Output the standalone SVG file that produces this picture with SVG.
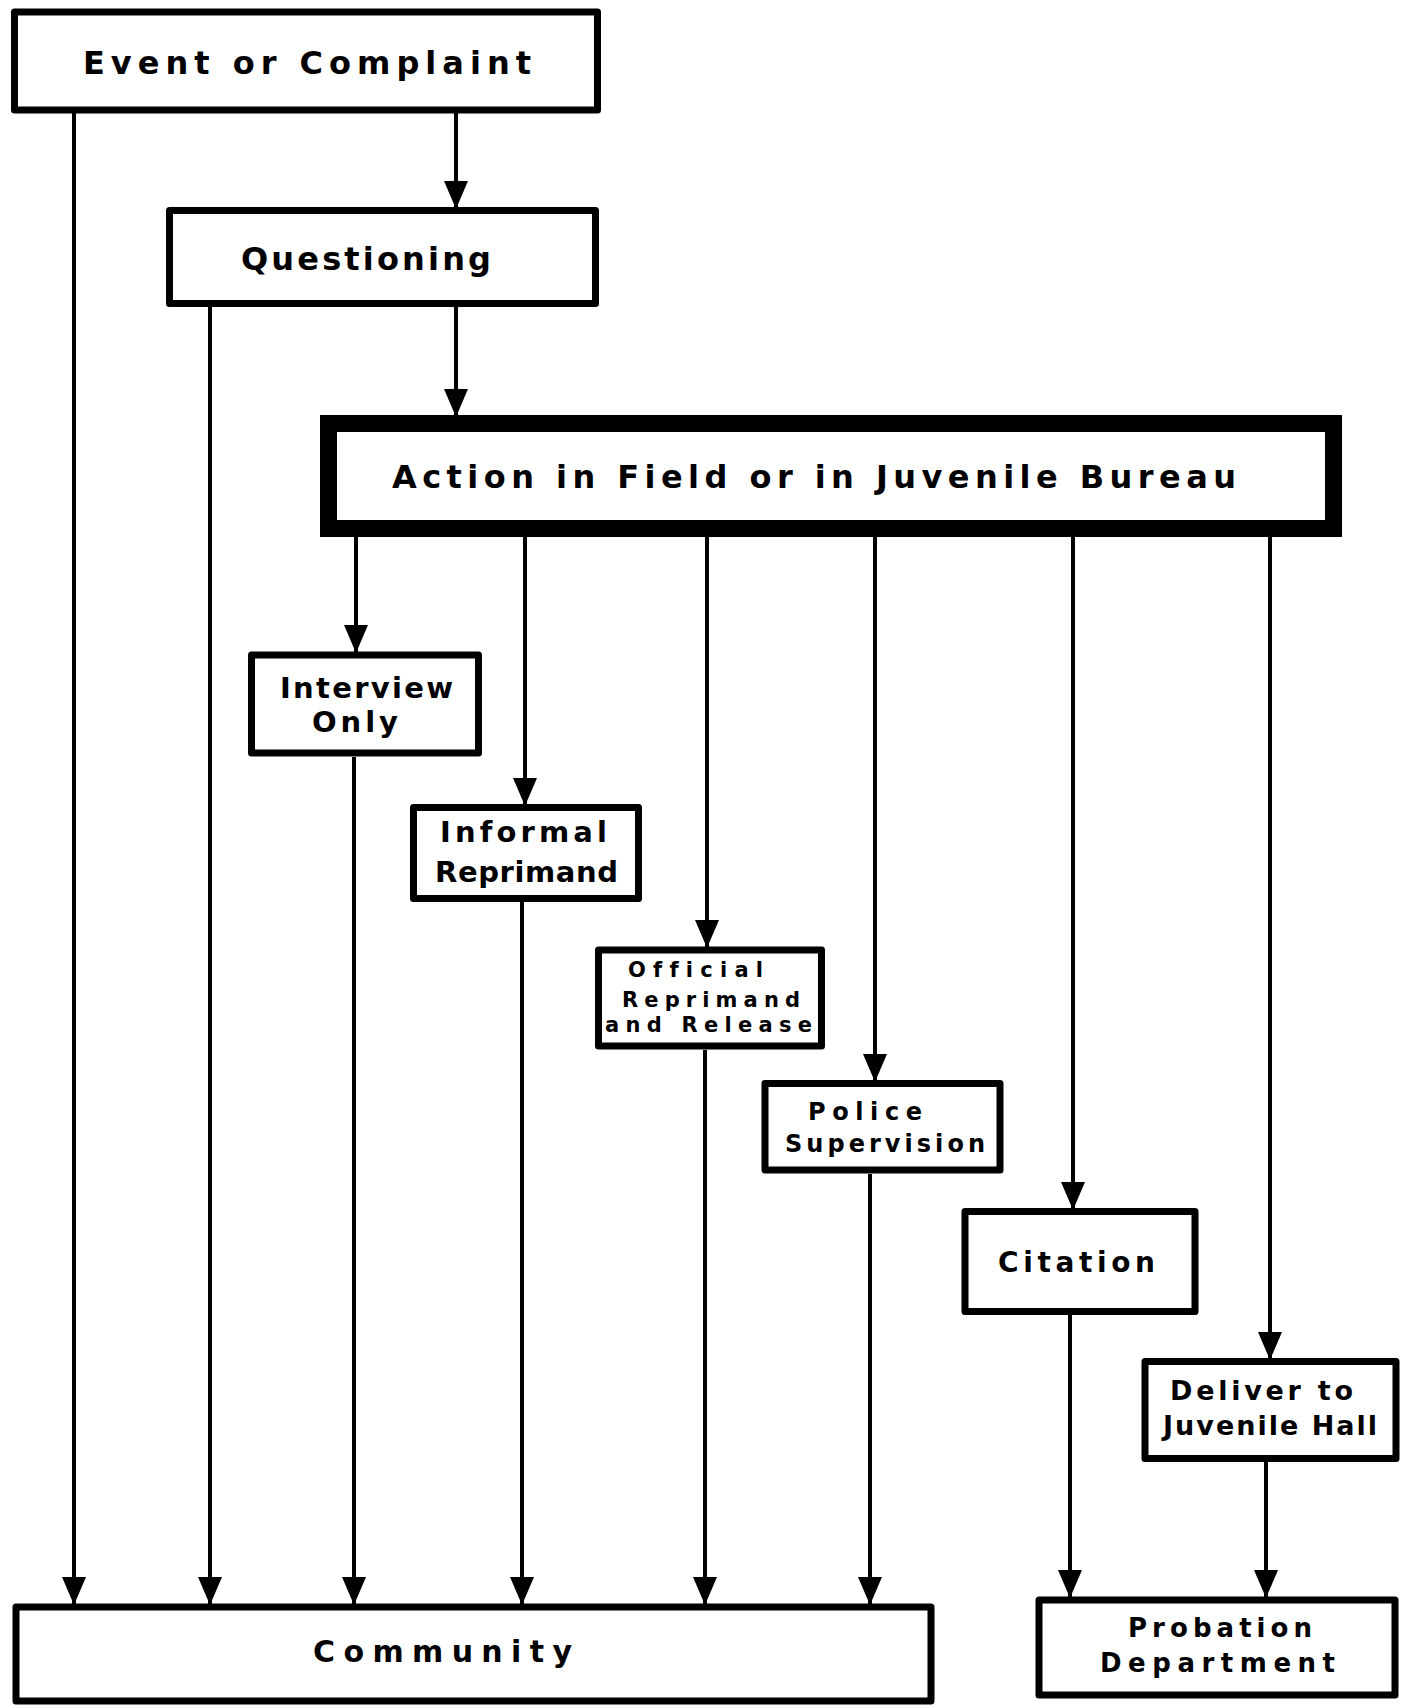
<svg xmlns="http://www.w3.org/2000/svg" width="1407" height="1708" viewBox="0 0 1407 1708">
<style>
.box{fill:#fff;stroke:#000;stroke-width:7;stroke-linejoin:round}
.thick{fill:#fff;stroke:#000;stroke-width:17}
.lbl{font-family:"DejaVu Sans","Liberation Sans",sans-serif;fill:#000;font-weight:bold;font-variant-ligatures:none}
.big{font-size:32px}
.mid{font-size:29px}
.sm{font-size:21px}
.conn line{stroke:#000;stroke-width:4;marker-end:url(#arr)}
</style>
<defs>
<marker id="arr" markerUnits="userSpaceOnUse" viewBox="0 0 28 24" markerWidth="28" markerHeight="24" refX="27" refY="12" orient="auto">
<path d="M0,0 L28,12 L0,24 Z" fill="#000"/>
</marker>
</defs>
<rect width="1407" height="1708" fill="#fff"/>
<g id="connectors" class="conn">
<line x1="74" y1="113" x2="74" y2="1604"/>
<line x1="456" y1="113" x2="456" y2="208"/>
<line x1="210" y1="307" x2="210" y2="1604"/>
<line x1="456" y1="307" x2="456" y2="416"/>
<line x1="356" y1="537" x2="356" y2="652"/>
<line x1="525" y1="537" x2="525" y2="805"/>
<line x1="707" y1="537" x2="707" y2="947"/>
<line x1="875" y1="537" x2="875" y2="1081"/>
<line x1="1073" y1="537" x2="1073" y2="1209"/>
<line x1="1270" y1="537" x2="1270" y2="1359"/>
<line x1="354" y1="757" x2="354" y2="1604"/>
<line x1="522" y1="902" x2="522" y2="1604"/>
<line x1="705" y1="1050" x2="705" y2="1604"/>
<line x1="870" y1="1174" x2="870" y2="1604"/>
<line x1="1070" y1="1315" x2="1070" y2="1597"/>
<line x1="1266" y1="1462" x2="1266" y2="1597"/>
</g>
<g id="event">
<rect class="box" x="14.5" y="12" width="583" height="98"/>
<text class="lbl big" x="83" y="74" textLength="448" lengthAdjust="spacing">Event or Complaint</text>
</g>
<g id="questioning">
<rect class="box" x="169.5" y="210.5" width="426" height="93"/>
<text class="lbl big" x="241" y="270" textLength="250" lengthAdjust="spacing">Questioning</text>
</g>
<g id="action">
<rect class="thick" x="328.5" y="423.5" width="1005" height="105"/>
<text class="lbl big" x="392" y="488" textLength="844" lengthAdjust="spacing">Action in Field or in Juvenile Bureau</text>
</g>
<g id="interview">
<rect class="box" x="251.5" y="655" width="227" height="98"/>
<text class="lbl mid" x="280" y="698" textLength="173" lengthAdjust="spacing">Interview</text>
<text class="lbl mid" x="312" y="732" textLength="86" lengthAdjust="spacing">Only</text>
</g>
<g id="informal">
<rect class="box" x="413.5" y="807.5" width="225" height="91"/>
<text class="lbl mid" x="440" y="842" textLength="167" lengthAdjust="spacing">Informal</text>
<text class="lbl mid" x="435" y="882" textLength="183" lengthAdjust="spacing">Reprimand</text>
</g>
<g id="official">
<rect class="box" x="598.5" y="950" width="223" height="96"/>
<text class="lbl sm" x="628" y="977" textLength="135" lengthAdjust="spacing">Official</text>
<text class="lbl sm" x="622" y="1007" textLength="178" lengthAdjust="spacing">Reprimand</text>
<text class="lbl sm" x="605" y="1032" textLength="207" lengthAdjust="spacing">and Release</text>
</g>
<g id="police">
<rect class="box" x="765" y="1083.5" width="235" height="86.5"/>
<text class="lbl" font-size="24" x="808" y="1120" textLength="114" lengthAdjust="spacing">Police</text>
<text class="lbl" font-size="24" x="785" y="1152" textLength="200" lengthAdjust="spacing">Supervision</text>
</g>
<g id="citation">
<rect class="box" x="965" y="1211.5" width="230" height="100"/>
<text class="lbl" font-size="28" x="998" y="1272" textLength="157" lengthAdjust="spacing">Citation</text>
</g>
<g id="deliver">
<rect class="box" x="1145" y="1361.5" width="251" height="97"/>
<text class="lbl" font-size="27" x="1170" y="1400" textLength="183" lengthAdjust="spacing">Deliver to</text>
<text class="lbl" font-size="27" x="1163" y="1435" textLength="214" lengthAdjust="spacing">Juvenile Hall</text>
</g>
<g id="community">
<rect class="box" x="16" y="1607" width="915" height="94"/>
<text class="lbl" font-size="30" x="313" y="1662" textLength="259" lengthAdjust="spacing">Community</text>
</g>
<g id="probation">
<rect class="box" x="1039" y="1600" width="356" height="95"/>
<text class="lbl" font-size="26" x="1128" y="1637" textLength="184" lengthAdjust="spacing">Probation</text>
<text class="lbl" font-size="26" x="1100" y="1672" textLength="235" lengthAdjust="spacing">Department</text>
</g>
</svg>
